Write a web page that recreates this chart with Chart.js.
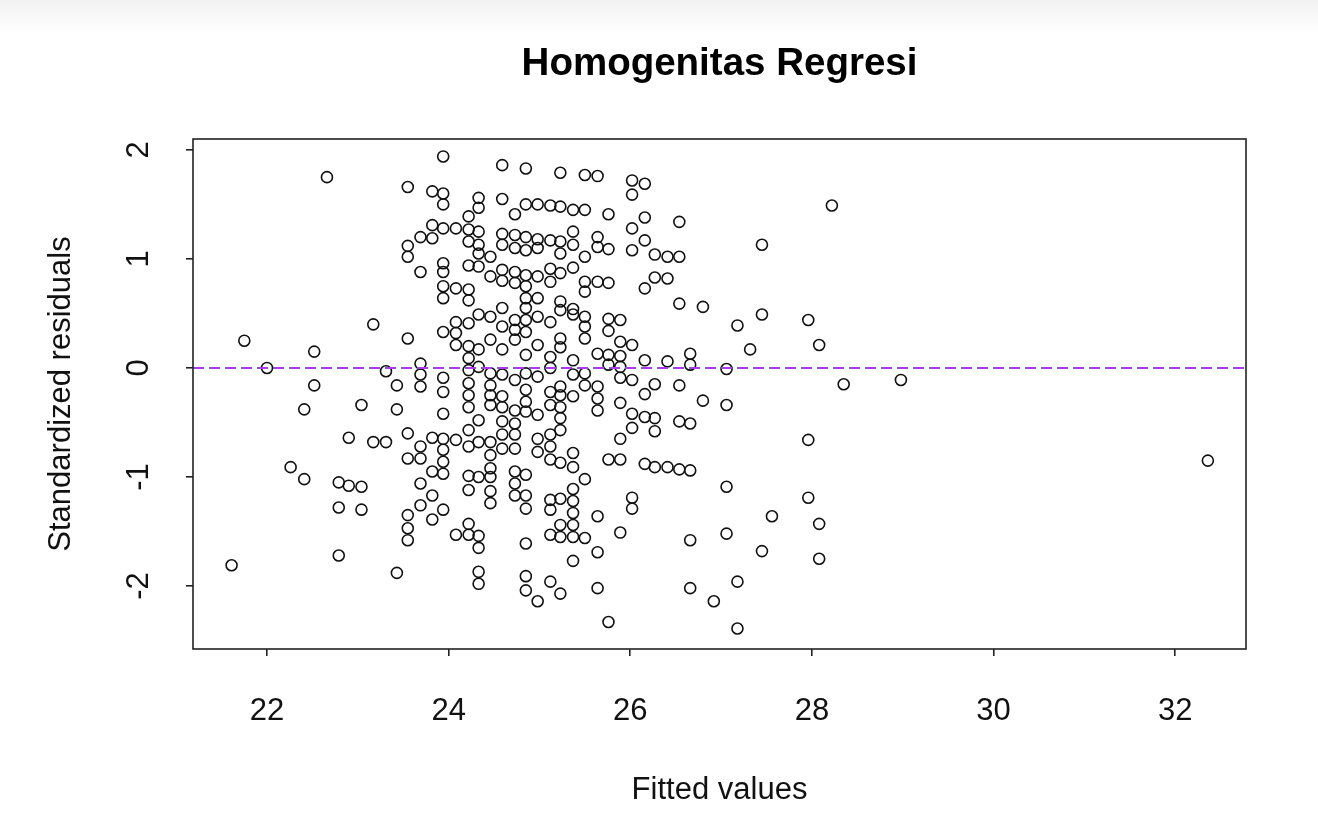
<!DOCTYPE html>
<html lang="id">
<head>
<meta charset="utf-8">
<title>Homogenitas Regresi</title>
<script src="https://cdn.jsdelivr.net/npm/chart.js@4.4.1/dist/chart.umd.min.js"></script>
<style>
    html, body { margin: 0; padding: 0; }
    body {
        width: 1318px;
        height: 830px;
        overflow: hidden;
        background: linear-gradient(to bottom, #f2f2f2 0px, #ffffff 34px);
    }
    canvas { display: block; }
</style>
</head>
<body>
<canvas id="residual-chart" width="1318" height="830"></canvas>
<script>
// Fitted values (each value is one column of points in the plot)
const fittedValues = [
    21.61, 21.75, 22.00, 22.26, 22.41, 22.52, 22.66, 22.79, 22.90, 23.04,
    23.17, 23.31, 23.43, 23.55, 23.69, 23.82, 23.94, 24.08, 24.22, 24.33,
    24.46, 24.59, 24.73, 24.85, 24.98, 25.12, 25.23, 25.37, 25.50, 25.64,
    25.76, 25.89, 26.02, 26.16, 26.27, 26.41, 26.54, 26.66, 26.80, 26.92,
    27.06, 27.18, 27.32, 27.45, 27.56, 27.96, 28.08, 28.22, 28.35, 28.98,
    32.36
];

// Standardized residuals for each fitted value above (same order)
const residualsByFit = [
    [-1.81],
    [0.25],
    [0.00],
    [-0.91],
    [-0.38, -1.02],
    [0.15, -0.16],
    [1.75],
    [-1.05, -1.28, -1.72],
    [-0.64, -1.08],
    [-0.34, -1.09, -1.30],
    [0.40, -0.68],
    [-0.03, -0.68],
    [-0.16, -0.38, -1.88],
    [1.66, 1.12, 1.02, 0.27, -0.60, -0.83, -1.35, -1.47, -1.58],
    [1.20, 0.88, 0.04, -0.06, -0.17, -0.72, -0.83, -1.06, -1.26],
    [1.62, 1.31, 1.19, -0.64, -0.95, -1.17, -1.39],
    [1.94, 1.60, 1.50, 1.28, 0.96, 0.88, 0.75, 0.64, 0.33, -0.09, -0.22, -0.42, -0.65, -0.75, -0.86, -0.97, -1.30],
    [1.28, 0.73, 0.42, 0.32, 0.21, -0.66, -1.53],
    [1.39, 1.27, 1.16, 0.94, 0.72, 0.62, 0.41, 0.20, 0.09, -0.02, -0.14, -0.25, -0.36, -0.57, -0.72, -0.99, -1.12, -1.43, -1.53],
    [1.56, 1.47, 1.25, 1.13, 1.05, 0.93, 0.49, 0.17, 0.01, -0.48, -0.68, -1.00, -1.54, -1.65, -1.87, -1.98],
    [1.02, 0.84, 0.47, 0.26, -0.05, -0.16, -0.25, -0.34, -0.68, -0.80, -0.92, -1.00, -1.13, -1.24],
    [1.86, 1.55, 1.23, 1.13, 0.90, 0.80, 0.55, 0.38, 0.17, -0.06, -0.26, -0.36, -0.49, -0.61, -0.74],
    [1.41, 1.22, 1.10, 0.88, 0.78, 0.44, 0.35, 0.26, -0.11, -0.39, -0.51, -0.61, -0.74, -0.95, -1.06, -1.17],
    [1.83, 1.50, 1.20, 1.08, 0.85, 0.75, 0.64, 0.55, 0.44, 0.33, 0.12, -0.05, -0.20, -0.31, -0.40, -0.98, -1.17, -1.29, -1.61, -1.91, -2.04],
    [1.50, 1.18, 1.10, 0.84, 0.64, 0.47, 0.21, -0.08, -0.43, -0.65, -0.77, -2.14],
    [1.49, 1.17, 0.91, 0.79, 0.42, 0.10, 0.00, -0.22, -0.34, -0.61, -0.72, -0.84, -1.21, -1.30, -1.53, -1.96],
    [1.79, 1.48, 1.16, 1.05, 0.87, 0.61, 0.53, 0.27, 0.19, -0.17, -0.25, -0.36, -0.46, -0.57, -0.87, -1.20, -1.44, -1.55, -2.07],
    [1.45, 1.25, 1.13, 0.92, 0.54, 0.49, 0.07, -0.06, -0.26, -0.78, -0.91, -1.11, -1.22, -1.33, -1.44, -1.55, -1.77],
    [1.77, 1.45, 1.02, 0.79, 0.70, 0.47, 0.38, 0.27, -0.05, -0.16, -1.02, -1.56],
    [1.76, 1.20, 1.11, 0.79, 0.13, -0.17, -0.28, -0.39, -1.36, -1.69, -2.02],
    [1.41, 1.09, 0.78, 0.45, 0.34, 0.12, 0.03, -0.84, -2.33],
    [0.44, 0.24, 0.11, 0.01, -0.09, -0.32, -0.65, -0.84, -1.51],
    [1.72, 1.59, 1.28, 1.08, 0.21, -0.11, -0.42, -0.55, -1.19, -1.29],
    [1.69, 1.38, 1.17, 0.73, 0.07, -0.24, -0.45, -0.88],
    [1.04, 0.83, -0.15, -0.46, -0.58, -0.91],
    [1.02, 0.82, 0.06, -0.91],
    [1.34, 1.02, 0.59, -0.16, -0.49, -0.93],
    [0.13, 0.03, -0.51, -0.94, -1.58, -2.02],
    [0.56, -0.30],
    [-2.14],
    [-0.01, -0.34, -1.09, -1.52],
    [0.39, -1.96, -2.39],
    [0.17],
    [1.13, 0.49, -1.68],
    [-1.36],
    [0.44, -0.66, -1.19],
    [0.21, -1.43, -1.75],
    [1.49],
    [-0.15],
    [-0.11],
    [-0.85]
];

const xTickValues = [22, 24, 26, 28, 30, 32];
const yTickValues = [-2, -1, 0, 1, 2];

// axis limits (R adds 4% on each side of the data range)
const xLimits = [21.185, 32.78];
const yLimits = [-2.578, 2.10];

const AXIS_FONT = 'Liberation Sans, Arial, sans-serif';

// R style box around the plotting region
const plotBoxPlugin = {
    id: 'plotBox',
    afterDraw(chart) {
        const { ctx, chartArea } = chart;
        ctx.save();
        ctx.strokeStyle = '#222';
        ctx.lineWidth = 1.6;
        ctx.strokeRect(chartArea.left, chartArea.top,
            chartArea.right - chartArea.left, chartArea.bottom - chartArea.top);
        ctx.restore();
    }
};

class ResidualPlot {
    constructor(canvasId) {
        this.canvas = document.getElementById(canvasId);
        this.chart = null;
        this.init();
    }

    init() {
        Chart.defaults.font.family = AXIS_FONT;
        Chart.defaults.color = '#111';
        this.chart = new Chart(this.canvas.getContext('2d'), this.buildConfig());
    }

    buildPoints() {
        const points = [];
        fittedValues.forEach((fit, i) => {
            residualsByFit[i].forEach(res => points.push({ x: fit, y: res }));
        });
        return points;
    }

    buildConfig() {
        const tickGrid = {
            display: true,
            drawOnChartArea: false,
            drawTicks: true,
            tickLength: 7,
            color: '#222',
            lineWidth: 1.6
        };

        return {
            type: 'scatter',
            data: {
                datasets: [
                    {
                        // abline(h = 0)
                        type: 'line',
                        data: [{ x: xLimits[0], y: 0 }, { x: xLimits[1], y: 0 }],
                        borderColor: '#a93cf2',
                        borderWidth: 2,
                        borderDash: [11, 5],
                        pointRadius: 0,
                        fill: false
                    },
                    {
                        data: this.buildPoints(),
                        pointStyle: 'circle',
                        pointRadius: 5.5,
                        pointBorderWidth: 1.6,
                        borderColor: '#111',
                        backgroundColor: 'rgba(0,0,0,0)',
                        pointHoverRadius: 5.5
                    }
                ]
            },
            options: {
                responsive: false,
                animation: false,
                events: [],
                layout: { padding: { left: 0, right: 72, top: 0, bottom: 0 } },
                plugins: {
                    legend: { display: false },
                    tooltip: { enabled: false },
                    title: {
                        display: true,
                        text: 'Homogenitas Regresi',
                        fullSize: false,
                        color: '#000',
                        font: { family: AXIS_FONT, size: 38.5, weight: 'bold' },
                        padding: { top: 41, bottom: 51.8 }
                    }
                },
                scales: {
                    x: {
                        type: 'linear',
                        position: 'bottom',
                        min: xLimits[0],
                        max: xLimits[1],
                        afterBuildTicks: scale => {
                            scale.ticks = xTickValues.map(v => ({ value: v }));
                        },
                        afterFit: scale => { scale.height = 181; },
                        border: { display: false },
                        grid: tickGrid,
                        ticks: {
                            font: { size: 31 },
                            color: '#111',
                            padding: 37,
                            maxRotation: 0,
                            autoSkip: false,
                            callback: v => String(v)
                        },
                        title: {
                            display: true,
                            text: 'Fitted values',
                            color: '#111',
                            font: { size: 31 },
                            padding: { top: 0, bottom: 21 }
                        }
                    },
                    y: {
                        type: 'linear',
                        min: yLimits[0],
                        max: yLimits[1],
                        afterBuildTicks: scale => {
                            scale.ticks = yTickValues.map(v => ({ value: v }));
                        },
                        afterFit: scale => { scale.width = 193; },
                        border: { display: false },
                        grid: tickGrid,
                        ticks: {
                            font: { size: 31 },
                            color: '#111',
                            padding: 33,
                            minRotation: 90,
                            maxRotation: 90,
                            crossAlign: 'center',
                            autoSkip: false,
                            callback: v => String(v)
                        },
                        title: {
                            display: true,
                            text: 'Standardized residuals',
                            color: '#111',
                            font: { size: 31 },
                            padding: { top: 43, bottom: 0 }
                        }
                    }
                }
            },
            plugins: [plotBoxPlugin]
        };
    }
}

const residualPlot = new ResidualPlot('residual-chart');
</script>
</body>
</html>
